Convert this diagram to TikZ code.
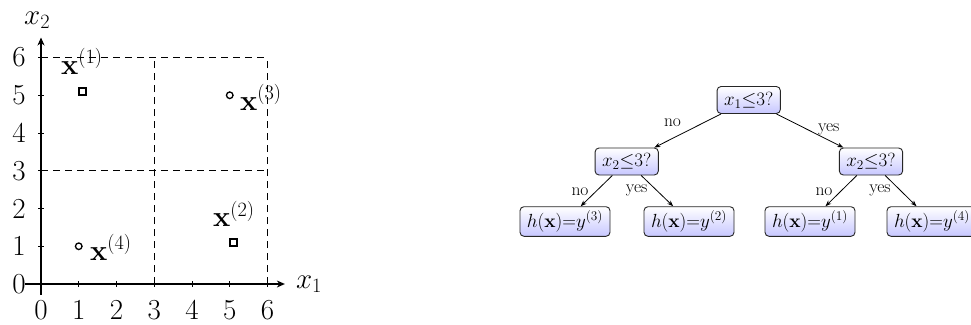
\RequirePackage{fix-cm}
\documentclass[tikz,border=0pt]{standalone}
\usetikzlibrary{arrows.meta,shadings}
\begin{document}
\begin{tikzpicture}[x=1pt,y=-1pt,
  tnode/.style={draw=black!85, line width=0.9pt, rounded corners=4pt,
    top color=white, bottom color=blue!22, inner xsep=7pt, inner ysep=4pt,
    minimum height=27pt, font=\fontsize{19}{22}\selectfont},
  tedge/.style={line width=0.8pt, -{Stealth[length=6pt,width=4.5pt]}},
  elab/.style={anchor=base, inner sep=0pt, font=\fontsize{17.5}{20}\selectfont},
  axisline/.style={line width=1.1pt, -{Stealth[length=8pt,width=7pt,inset=2.5pt]}},
  tickmark/.style={line width=0.9pt},
  gridline/.style={line width=1.1pt, dash pattern=on 7pt off 5pt},
  plab/.style={inner sep=0pt, font=\fontsize{29}{34}\selectfont},
  sqmark/.style={line width=1.4pt},
  cimark/.style={line width=1.3pt}
]
\fill[white] (0,0) rectangle (971,324);
\useasboundingbox (0,0) rectangle (971,324);
\clip (0,0) rectangle (971,324);

% ---------- plot ----------
\begin{scope}[shift={(41,284)}, x=37.75pt, y=37.75pt]
  \draw[gridline] (0,6) -- (6,6);
  \draw[gridline] (0,3) -- (6,3);
  \draw[gridline] (3,0) -- (3,6);
  \draw[gridline] (6,0) -- (6,6);
  \coordinate (xs) at (-0.42,0);
  \coordinate (xe) at (6.46,0);
  \coordinate (ys) at (0,-0.29);
  \coordinate (ye) at (0,6.53);
  \draw[axisline] (xs) -- (xe);
  \draw[axisline] (ys) -- (ye);
  \foreach \i in {0,...,6} {
    \draw[tickmark] (\i,-0.07) -- (\i,0.07);
    \draw[tickmark] (-0.07,\i) -- (0.07,\i);
    \node[plab, anchor=base, yshift=-35.5pt] (xt\i) at (\i,0) {\i};
    \node[plab, anchor=east, xshift=-15pt] (yt\i) at (0,\i) {\i};
  }
  \node[plab, anchor=west, xshift=11pt] (xlab) at (xe) {$x_1$};
  \draw[sqmark] (1.1,5.1) ++(-3.5pt,-3.5pt) rectangle ++(7pt,7pt);
  \draw[sqmark] (5.1,1.1) ++(-3.5pt,-3.5pt) rectangle ++(7pt,7pt);
  \draw[cimark] (1,1) circle[radius=3.3pt];
  \draw[cimark] (5,5) circle[radius=3.3pt];
\end{scope}
\node[plab, anchor=base west] (ylab) at (24,24.5) {$x_2$};
\node[plab, anchor=base west] (p1) at (61,74) {$\mathbf{x}^{(1)}$};
\node[plab, anchor=base west] (p3) at (240,110) {$\mathbf{x}^{(3)}$};
\node[plab, anchor=base west] (p2) at (213,226.7) {$\mathbf{x}^{(2)}$};
\node[plab, anchor=base west] (p4) at (90,260) {$\mathbf{x}^{(4)}$};

% ---------- tree ----------
\node[tnode] (root) at (748.7,100) {$x_1{\leq}3?$};
\node[tnode] (L) at (626.7,161.5) {$x_2{\leq}3?$};
\node[tnode] (R) at (871,161.5) {$x_2{\leq}3?$};
\node[tnode] (l1) at (565,221.5) {$h(\mathbf{x}){=}y^{(3)}$};
\node[tnode] (l2) at (689,221.5) {$h(\mathbf{x}){=}y^{(2)}$};
\node[tnode] (l3) at (810,221.5) {$h(\mathbf{x}){=}y^{(1)}$};
\node[tnode] (l4) at (932,221.5) {$h(\mathbf{x}){=}y^{(4)}$};
\draw[tedge] (root) -- (L);
\draw[tedge] (root) -- (R);
\draw[tedge] (L) -- (l1);
\draw[tedge] (L) -- (l2);
\draw[tedge] (R) -- (l3);
\draw[tedge] (R) -- (l4);
\node[elab] (noA) at (672.5,126.7) {no};
\node[elab] (yesA) at (828.7,131) {yes};
\node[elab] (noL) at (580,195) {no};
\node[elab] (yesL) at (636.7,192) {yes};
\node[elab] (noR) at (824,195) {no};
\node[elab] (yesR) at (880,192) {yes};
\end{tikzpicture}
\end{document}
